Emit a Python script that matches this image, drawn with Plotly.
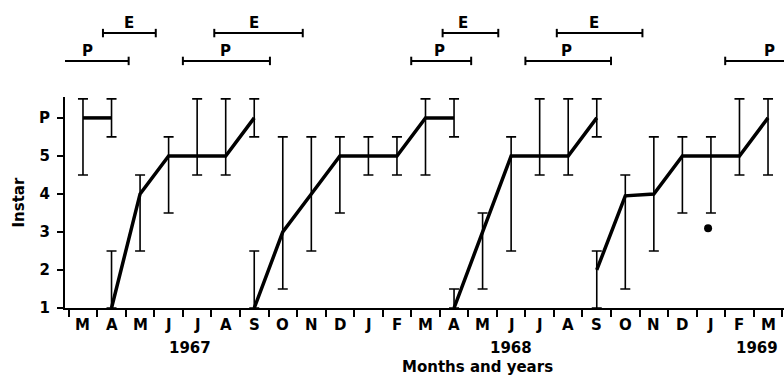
import plotly.graph_objects as go

# Month sequence, March 1967 to March 1969 (index 0 = March 1967)
months = ["M", "A", "M", "J", "J", "A", "S", "O", "N", "D", "J", "F",
          "M", "A", "M", "J", "J", "A", "S", "O", "N", "D", "J", "F", "M"]
years = ["1967", "1968", "1969"]
year_pos = [3.75, 15.0, 23.6]

# Mean instar per sample (6 = P) with range of instars found, one list per generation
gen1_x = [0, 1]
gen1_y = [6, 6]
gen1_lo = [4.5, 5.5]
gen1_hi = [6.5, 6.5]

gen2_x = [1, 2, 3, 4, 5, 6]
gen2_y = [1, 4, 5, 5, 5, 6]
gen2_lo = [1, 2.5, 3.5, 4.5, 4.5, 5.5]
gen2_hi = [2.5, 4.5, 5.5, 6.5, 6.5, 6.5]

gen3_x = [6, 7, 8, 9, 10, 11, 12, 13]
gen3_y = [1, 3, 4, 5, 5, 5, 6, 6]
gen3_lo = [1, 1.5, 2.5, 3.5, 4.5, 4.5, 4.5, 5.5]
gen3_hi = [2.5, 5.5, 5.5, 5.5, 5.5, 5.5, 6.5, 6.5]

gen4_x = [13, 14, 15, 16, 17, 18]
gen4_y = [1, 3, 5, 5, 5, 6]
gen4_lo = [1, 1.5, 2.5, 4.5, 4.5, 5.5]
gen4_hi = [1.5, 3.5, 5.5, 6.5, 6.5, 6.5]

gen5_x = [18, 19, 20, 21, 22, 23, 24]
gen5_y = [2, 3.95, 4, 5, 5, 5, 6]
gen5_lo = [1, 1.5, 2.5, 3.5, 3.5, 4.5, 4.5]
gen5_hi = [2.5, 4.5, 5.5, 5.5, 5.5, 6.5, 6.5]

# Single isolated record in January 1969
extra_x = [21.9]
extra_y = [3.1]

# Pupation (P) and emergence (E) periods, in month index units
pupa_start = [-0.7, 3.5, 11.5, 15.5, 22.5]
pupa_end = [1.6, 6.55, 13.6, 18.5, 25.5]
pupa_label_x = [0.15, 5.0, 12.5, 16.95, 24.05]
emerg_start = [0.7, 4.6, 12.6, 16.6]
emerg_end = [2.55, 7.7, 14.55, 19.6]
emerg_label_x = [1.6, 6.0, 13.3, 17.9]

X_RANGE = [-0.63, 24.56]
PLOT_W, PLOT_H = 719, 211
FONT = dict(family="DejaVu Sans", size=15, color="black", weight="bold")

fig = go.Figure()

for gx, gy, glo, ghi in [
    (gen1_x, gen1_y, gen1_lo, gen1_hi),
    (gen2_x, gen2_y, gen2_lo, gen2_hi),
    (gen3_x, gen3_y, gen3_lo, gen3_hi),
    (gen4_x, gen4_y, gen4_lo, gen4_hi),
    (gen5_x, gen5_y, gen5_lo, gen5_hi),
]:
    fig.add_trace(go.Scatter(
        x=gx, y=gy, mode="lines",
        line=dict(color="black", width=3.5),
        error_y=dict(
            type="data", symmetric=False,
            array=[h - v for h, v in zip(ghi, gy)],
            arrayminus=[v - l for v, l in zip(gy, glo)],
            color="black", thickness=1.6, width=5,
        ),
        cliponaxis=False, showlegend=False, hoverinfo="skip",
    ))

fig.add_trace(go.Scatter(
    x=extra_x, y=extra_y, mode="markers",
    marker=dict(color="black", size=8),
    showlegend=False, hoverinfo="skip",
))

# Period bars above the plot
P_ROW, E_ROW, CAP = 1.171, 1.303, 0.02
shapes = []
annotations = []


def period_bars(starts, ends, label_xs, row, text):
    for s, e, lx in zip(starts, ends, label_xs):
        shapes.append(dict(type="line", xref="x", yref="paper", x0=s, x1=e,
                           y0=row, y1=row, line=dict(color="black", width=2)))
        for end in (s, e):
            if X_RANGE[0] <= end <= X_RANGE[1]:
                shapes.append(dict(type="line", xref="x", yref="paper",
                                   x0=end, x1=end, y0=row - CAP, y1=row + CAP,
                                   line=dict(color="black", width=2)))
        annotations.append(dict(x=lx, y=row + 0.047, xref="x", yref="paper",
                                text=text, showarrow=False, font=FONT,
                                yanchor="middle", xanchor="center"))


period_bars(pupa_start, pupa_end, pupa_label_x, P_ROW, "P")
period_bars(emerg_start, emerg_end, emerg_label_x, E_ROW, "E")

# Month letters centred under each sample, years underneath
for i, m in enumerate(months):
    annotations.append(dict(x=i, y=-17 / PLOT_H, xref="x", yref="paper", text=m,
                            showarrow=False, font=FONT, yanchor="middle"))
for yr, xp in zip(years, year_pos):
    annotations.append(dict(x=xp, y=-40 / PLOT_H, xref="x", yref="paper", text=yr,
                            showarrow=False, font=FONT, yanchor="middle"))

annotations.append(dict(x=(477 - 65) / PLOT_W, y=-59 / PLOT_H, xref="paper", yref="paper",
                        text="Months and years", showarrow=False, font=FONT,
                        yanchor="middle"))
annotations.append(dict(x=-(65 - 18) / PLOT_W, y=0.5, xref="paper", yref="paper",
                        text="Instar", textangle=-90, showarrow=False,
                        font=FONT, xanchor="center", yanchor="middle"))

fig.update_layout(
    width=784, height=377,
    margin=dict(l=65, r=0, t=97, b=69),
    paper_bgcolor="white", plot_bgcolor="white",
    shapes=shapes, annotations=annotations,
    xaxis=dict(
        range=X_RANGE, showgrid=False, zeroline=False,
        showline=True, linecolor="black", linewidth=2,
        tickmode="array", tickvals=[i + 0.5 for i in range(-1, 25)],
        ticktext=[""] * 26, showticklabels=False,
        ticks="outside", ticklen=7, tickwidth=1.5, tickcolor="black",
    ),
    yaxis=dict(
        range=[1, 6.55], showgrid=False, zeroline=False,
        showline=True, linecolor="black", linewidth=2,
        tickmode="array", tickvals=[1, 2, 3, 4, 5, 6],
        ticktext=["1", "2", "3", "4", "5", "P"],
        ticks="outside", ticklen=6, tickwidth=1.5, tickcolor="black",
        tickfont=FONT, ticklabelstandoff=4,
    ),
)

fig.write_html("out.html")
